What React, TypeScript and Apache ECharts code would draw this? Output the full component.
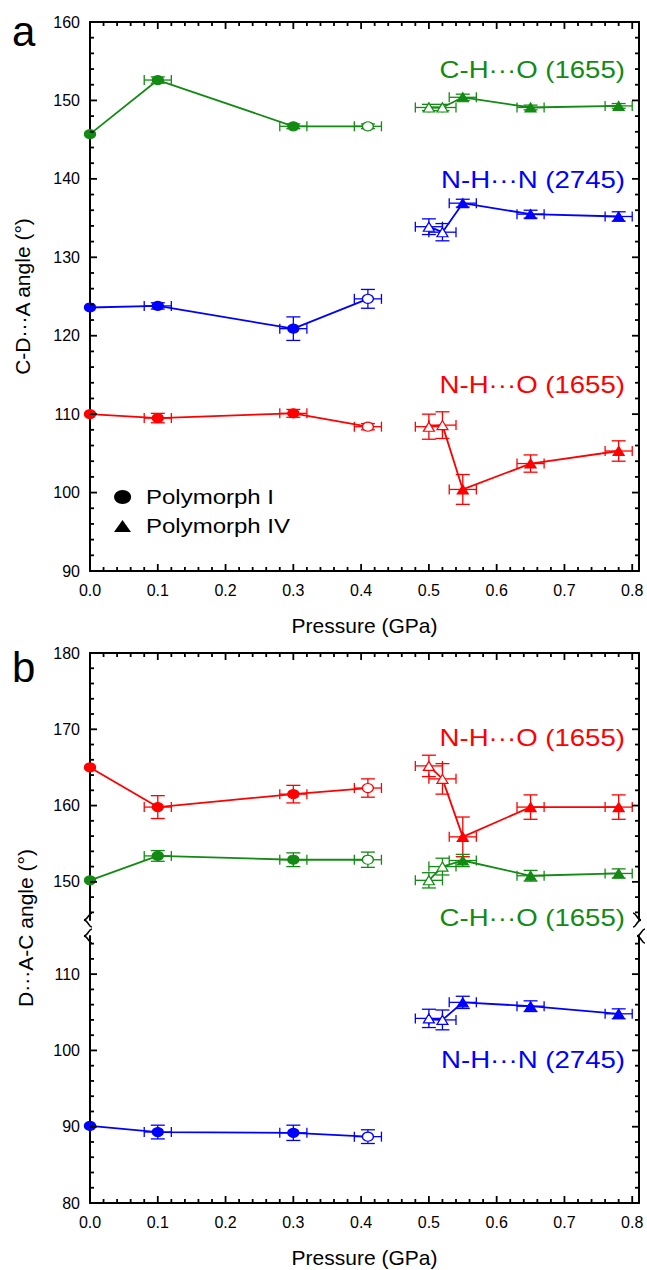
import React, { useEffect, useRef } from 'react';
import * as echarts from 'echarts';

// ---------- data ----------
const pressureI = [0, 0.1, 0.3, 0.41];
const pressureIV = [0.5, 0.52, 0.55, 0.65, 0.78];
const pressureErrI = [0, 0.02, 0.02, 0.02];
const pressureErrIV = [0.02, 0.02, 0.02, 0.02, 0.02];
const openI = [false, false, false, true];
const openIV = [true, true, false, false, false];

// panel a: C-D...A angle
const aCHO_I = [145.7, 152.6, 146.7, 146.7];
const aCHO_IV = [149.1, 149.1, 150.4, 149.1, 149.3];
const aCHO_errI = [0, 0.4, 0.3, 0.3];
const aCHO_errIV = [0.4, 0.4, 0.4, 0.3, 0.3];
const aNHN_I = [123.6, 123.8, 120.9, 124.7];
const aNHN_IV = [133.9, 133.2, 136.9, 135.5, 135.2];
const aNHN_errI = [0, 0.4, 1.5, 1.2];
const aNHN_errIV = [1.0, 1.1, 0.5, 0.5, 0.6];
const aNHO_I = [110.0, 109.5, 110.1, 108.4];
const aNHO_IV = [108.4, 108.6, 100.4, 103.7, 105.3];
const aNHO_errI = [0, 0.6, 0.5, 0.4];
const aNHO_errIV = [1.6, 1.7, 1.9, 1.1, 1.3];

// panel b: D...A-C angle
const bNHO_I = [165.0, 159.8, 161.5, 162.3];
const bNHO_IV = [165.2, 163.5, 155.9, 159.8, 159.8];
const bNHO_errI = [0, 1.5, 1.15, 1.2];
const bNHO_errIV = [1.4, 2.0, 2.6, 1.6, 1.6];
const bCHO_I = [150.2, 153.4, 152.9, 152.9];
const bCHO_IV = [150.2, 152.0, 152.8, 150.8, 151.1];
const bCHO_errI = [0, 0.7, 0.9, 1.0];
const bCHO_errIV = [1.0, 1.1, 0.8, 0.7, 0.6];
const bNHN_I = [90.1, 89.3, 89.2, 88.7];
const bNHN_IV = [104.2, 104.0, 106.3, 105.8, 104.8];
const bNHN_errI = [0, 0.9, 1.0, 0.9];
const bNHN_errIV = [1.2, 1.3, 0.8, 0.7, 0.65];

// axes
const xRange = [0, 0.81];
const xTicks = [0, 0.1, 0.2, 0.3, 0.4, 0.5, 0.6, 0.7, 0.8];
const aYRange = [90, 160];
const aYTicks = [90, 100, 110, 120, 130, 140, 150, 160];
const bUpperRange = [145, 180];
const bUpperTicks = [150, 160, 170, 180];
const bLowerRange = [80, 115];
const bLowerTicks = [80, 90, 100, 110];

const GREEN = '#138a13';
const BLUE = '#0000ff';
const RED = '#ff0000';
const FONT = '"Liberation Sans", Arial, sans-serif';
const PLOT_W = 549;
const A_H = 549;
const B_H = 267;

function minorTicks(majors: number[], step: number, lo: number, hi: number) {
  const out: number[] = [];
  const n = Math.round((hi - lo) / step);
  for (let i = 0; i <= n; i++) {
    const v = +(lo + i * step).toFixed(4);
    if (!majors.some((m) => Math.abs(m - v) < 1e-6)) out.push(v);
  }
  return out;
}
const xMinor = minorTicks(xTicks, 0.02, 0, 0.8);
const aYMinor = minorTicks(aYTicks, 2, 90, 160);
const bUpperMinor = minorTicks(bUpperTicks, 2, 146, 180);
const bLowerMinor = minorTicks(bLowerTicks, 2, 80, 114);

const lineAxis = () => ({ show: true, onZero: false, lineStyle: { color: '#000', width: 2 } });

function xFrame(gridIndex: number, position: string, labels: boolean, name?: string) {
  return {
    type: 'value', gridIndex, position, min: xRange[0], max: xRange[1],
    splitLine: { show: false },
    axisLine: lineAxis(),
    axisTick: { show: false },
    axisLabel: { show: labels, customValues: xTicks, formatter: (v: number) => v.toFixed(1), fontSize: 16, color: '#000', margin: 11, fontFamily: FONT },
    name: name || '', nameLocation: 'middle', nameGap: 44,
    nameTextStyle: { fontSize: 21, color: '#000', fontFamily: FONT },
  };
}
function yFrame(gridIndex: number, position: string, range: number[], ticks: number[], labels: boolean, name?: string) {
  return {
    type: 'value', gridIndex, position, min: range[0], max: range[1],
    splitLine: { show: false },
    axisLine: lineAxis(),
    axisTick: { show: false },
    axisLabel: { show: labels, customValues: ticks, fontSize: 16, color: '#000', margin: 10, fontFamily: FONT },
    name: name || '', nameLocation: 'middle', nameGap: 57,
    nameTextStyle: { fontSize: 21, color: '#000', fontFamily: FONT },
  };
}

// inward tick marks, placed through the grid's own scales
// kind: 0 bottom edge, 1 top edge, 2 left edge, 3 right edge
function tickSeries(
  xAxisIndex: number, yAxisIndex: number, yRange: number[],
  yMajor: number[], yMinor: number[], top: boolean, bottom: boolean,
) {
  const data: number[][] = [];
  const addX = (vals: number[], len: number) => vals.forEach((v) => {
    if (bottom) data.push([v, yRange[0], 0, len]);
    if (top) data.push([v, yRange[1], 1, len]);
  });
  const addY = (vals: number[], len: number) => vals.forEach((v) => {
    data.push([xRange[0], v, 2, len]);
    data.push([xRange[1], v, 3, len]);
  });
  addX(xTicks, 7);
  addX(xMinor, 4);
  addY(yMajor, 7);
  addY(yMinor, 4);
  return {
    type: 'custom', name: 'ticks', xAxisIndex, yAxisIndex, data,
    encode: { x: 0, y: 1 }, z: 5, silent: true, clip: false,
    renderItem: (_p: any, api: any) => {
      const c = api.coord([api.value(0), api.value(1)]);
      const kind = api.value(2);
      const len = api.value(3);
      let x2 = c[0], y2 = c[1];
      if (kind === 0) y2 = c[1] - len;
      else if (kind === 1) y2 = c[1] + len;
      else if (kind === 2) x2 = c[0] + len;
      else x2 = c[0] - len;
      return { type: 'line', shape: { x1: c[0], y1: c[1], x2, y2 }, style: { stroke: '#000', lineWidth: 1.8 } };
    },
  };
}

function bondSeries(
  name: string, color: string,
  yI: number[], yErrI: number[], yIV: number[], yErrIV: number[],
  xAxisIndex: number, yAxisIndex: number,
) {
  const line = (xs: number[], ys: number[], open: boolean[], symbol: string, size: number[], suffix: string) => ({
    type: 'line', name: name + suffix, xAxisIndex, yAxisIndex,
    data: xs.map((x, i) => ({
      value: [x, ys[i]],
      itemStyle: { color: open[i] ? '#ffffff' : color, borderColor: color, borderWidth: 1.2 },
    })),
    symbol, symbolSize: size, showSymbol: true,
    lineStyle: { color, width: 1.8 },
    itemStyle: { color },
    z: 3, clip: false, silent: true,
  });
  const errData = [
    ...pressureI.map((x, i) => [x, yI[i], pressureErrI[i], yErrI[i]]),
    ...pressureIV.map((x, i) => [x, yIV[i], pressureErrIV[i], yErrIV[i]]),
  ];
  const err = {
    type: 'custom', name: name + ' error', xAxisIndex, yAxisIndex,
    data: errData, encode: { x: 0, y: 1 }, z: 2, silent: true, clip: false,
    renderItem: (_p: any, api: any) => {
      const x = api.value(0), y = api.value(1), xe = api.value(2), ye = api.value(3);
      const style = { stroke: color, lineWidth: 1.3, fill: 'none' };
      const children: any[] = [];
      if (xe > 0) {
        const l = api.coord([x - xe, y]);
        const r = api.coord([x + xe, y]);
        children.push({ type: 'line', shape: { x1: l[0], y1: l[1], x2: r[0], y2: r[1] }, style });
        children.push({ type: 'line', shape: { x1: l[0], y1: l[1] - 5, x2: l[0], y2: l[1] + 5 }, style });
        children.push({ type: 'line', shape: { x1: r[0], y1: r[1] - 5, x2: r[0], y2: r[1] + 5 }, style });
      }
      if (ye > 0) {
        const t = api.coord([x, y + ye]);
        const b = api.coord([x, y - ye]);
        children.push({ type: 'line', shape: { x1: t[0], y1: t[1], x2: b[0], y2: b[1] }, style });
        children.push({ type: 'line', shape: { x1: t[0] - 7, y1: t[1], x2: t[0] + 7, y2: t[1] }, style });
        children.push({ type: 'line', shape: { x1: b[0] - 7, y1: b[1], x2: b[0] + 7, y2: b[1] }, style });
      }
      return { type: 'group', children };
    },
  };
  return [
    err,
    line(pressureI, yI, openI, 'circle', [11, 9], ' (Polymorph I)'),
    line(pressureIV, yIV, openIV, 'triangle', [11, 9], ' (Polymorph IV)'),
  ];
}

function label(text: string, x: number, y: number, color: string, fontSize = 23) {
  return {
    type: 'text', x, y, scaleX: 1.2, silent: true,
    style: { text, fill: color, fontSize, fontFamily: FONT, align: 'right', verticalAlign: 'middle' },
  };
}

// curly axis-break mark; dir = -1 gives "{", 1 gives "}"
function brace(cx: number, cy: number, dir: number) {
  const h = 7;
  const w = 4;
  const s = dir;
  const style = { stroke: '#000', lineWidth: 1.6, fill: 'none' };
  return [
    { type: 'bezierCurve', silent: true, shape: { x1: cx - s * w, y1: cy - h, cpx1: cx - s * w * 0.1, cpy1: cy - h, cpx2: cx - s * w * 0.1, cpy2: cy - 0.5, x2: cx + s * w, y2: cy }, style },
    { type: 'bezierCurve', silent: true, shape: { x1: cx + s * w, y1: cy, cpx1: cx - s * w * 0.1, cpy1: cy + 0.5, cpx2: cx - s * w * 0.1, cpy2: cy + h, x2: cx - s * w, y2: cy + h }, style },
  ];
}

export default function App() {
  const ref = useRef<HTMLDivElement>(null);
  useEffect(() => {
    if (!ref.current) return;
    const chart = echarts.init(ref.current, null, { renderer: 'svg' });
    const option: any = {
      animation: false,
      backgroundColor: '#ffffff',
      grid: [
        { left: 90, top: 22, width: PLOT_W, height: A_H, containLabel: false },
        { left: 90, top: 653, width: PLOT_W, height: B_H, containLabel: false },
        { left: 90, top: 936, width: PLOT_W, height: B_H, containLabel: false },
      ],
      xAxis: [
        xFrame(0, 'bottom', true, 'Pressure (GPa)'), // 0
        xFrame(0, 'top', false), // 1
        xFrame(1, 'top', false), // 2
        xFrame(2, 'bottom', true, 'Pressure (GPa)'), // 3
      ],
      yAxis: [
        yFrame(0, 'left', aYRange, aYTicks, true, 'C-D···A angle (°)'), // 0
        yFrame(0, 'right', aYRange, aYTicks, false), // 1
        yFrame(1, 'left', bUpperRange, bUpperTicks, true), // 2
        yFrame(1, 'right', bUpperRange, bUpperTicks, false), // 3
        yFrame(2, 'left', bLowerRange, bLowerTicks, true), // 4
        yFrame(2, 'right', bLowerRange, bLowerTicks, false), // 5
      ],
      series: [
        tickSeries(0, 0, aYRange, aYTicks, aYMinor, true, true),
        tickSeries(2, 2, bUpperRange, bUpperTicks, bUpperMinor, true, false),
        tickSeries(3, 4, bLowerRange, bLowerTicks, bLowerMinor, false, true),
        ...bondSeries('C-H···O (1655) a', GREEN, aCHO_I, aCHO_errI, aCHO_IV, aCHO_errIV, 0, 0),
        ...bondSeries('N-H···N (2745) a', BLUE, aNHN_I, aNHN_errI, aNHN_IV, aNHN_errIV, 0, 0),
        ...bondSeries('N-H···O (1655) a', RED, aNHO_I, aNHO_errI, aNHO_IV, aNHO_errIV, 0, 0),
        ...bondSeries('N-H···O (1655) b', RED, bNHO_I, bNHO_errI, bNHO_IV, bNHO_errIV, 2, 2),
        ...bondSeries('C-H···O (1655) b', GREEN, bCHO_I, bCHO_errI, bCHO_IV, bCHO_errIV, 2, 2),
        ...bondSeries('N-H···N (2745) b', BLUE, bNHN_I, bNHN_errI, bNHN_IV, bNHN_errIV, 3, 4),
      ],
      graphic: [
        { type: 'text', x: 12, y: 10, silent: true, style: { text: 'a', fill: '#000', fontSize: 42, fontFamily: FONT, align: 'left', verticalAlign: 'top' } },
        { type: 'text', x: 12, y: 646, silent: true, style: { text: 'b', fill: '#000', fontSize: 42, fontFamily: FONT, align: 'left', verticalAlign: 'top' } },
        label('C-H···O (1655)', 625, 70, GREEN),
        label('N-H···N (2745)', 625, 180, BLUE),
        label('N-H···O (1655)', 625, 385, RED),
        label('N-H···O (1655)', 625, 738, RED),
        label('C-H···O (1655)', 625, 918, GREEN),
        label('N-H···N (2745)', 625, 1060, BLUE),
        // legend
        { type: 'ellipse', silent: true, shape: { cx: 122.6, cy: 497, rx: 8.5, ry: 7 }, style: { fill: '#000' } },
        { type: 'polygon', silent: true, shape: { points: [[114, 532], [131, 532], [122.5, 520]] }, style: { fill: '#000' } },
        { type: 'text', x: 146, y: 497, scaleX: 1.2, silent: true, style: { text: 'Polymorph I', fill: '#000', fontSize: 20, fontFamily: FONT, align: 'left', verticalAlign: 'middle' } },
        { type: 'text', x: 146, y: 526, scaleX: 1.2, silent: true, style: { text: 'Polymorph IV', fill: '#000', fontSize: 20, fontFamily: FONT, align: 'left', verticalAlign: 'middle' } },
        // panel b y-axis name
        { type: 'text', x: 25, y: 928, rotation: Math.PI / 2, silent: true, style: { text: 'D···A-C angle (°)', fill: '#000', fontSize: 21, fontFamily: FONT, align: 'center', verticalAlign: 'middle' } },
        // axis break marks
        ...brace(88, 920, -1),
        ...brace(88, 936, -1),
        ...brace(637, 920, 1),
        ...brace(641, 936, -1),
      ],
    };
    chart.setOption(option);
    return () => chart.dispose();
  }, []);
  return <div ref={ref} style={{ position: 'absolute', left: 0, top: 0, width: 647, height: 1270, background: '#fff' }} />;
}
